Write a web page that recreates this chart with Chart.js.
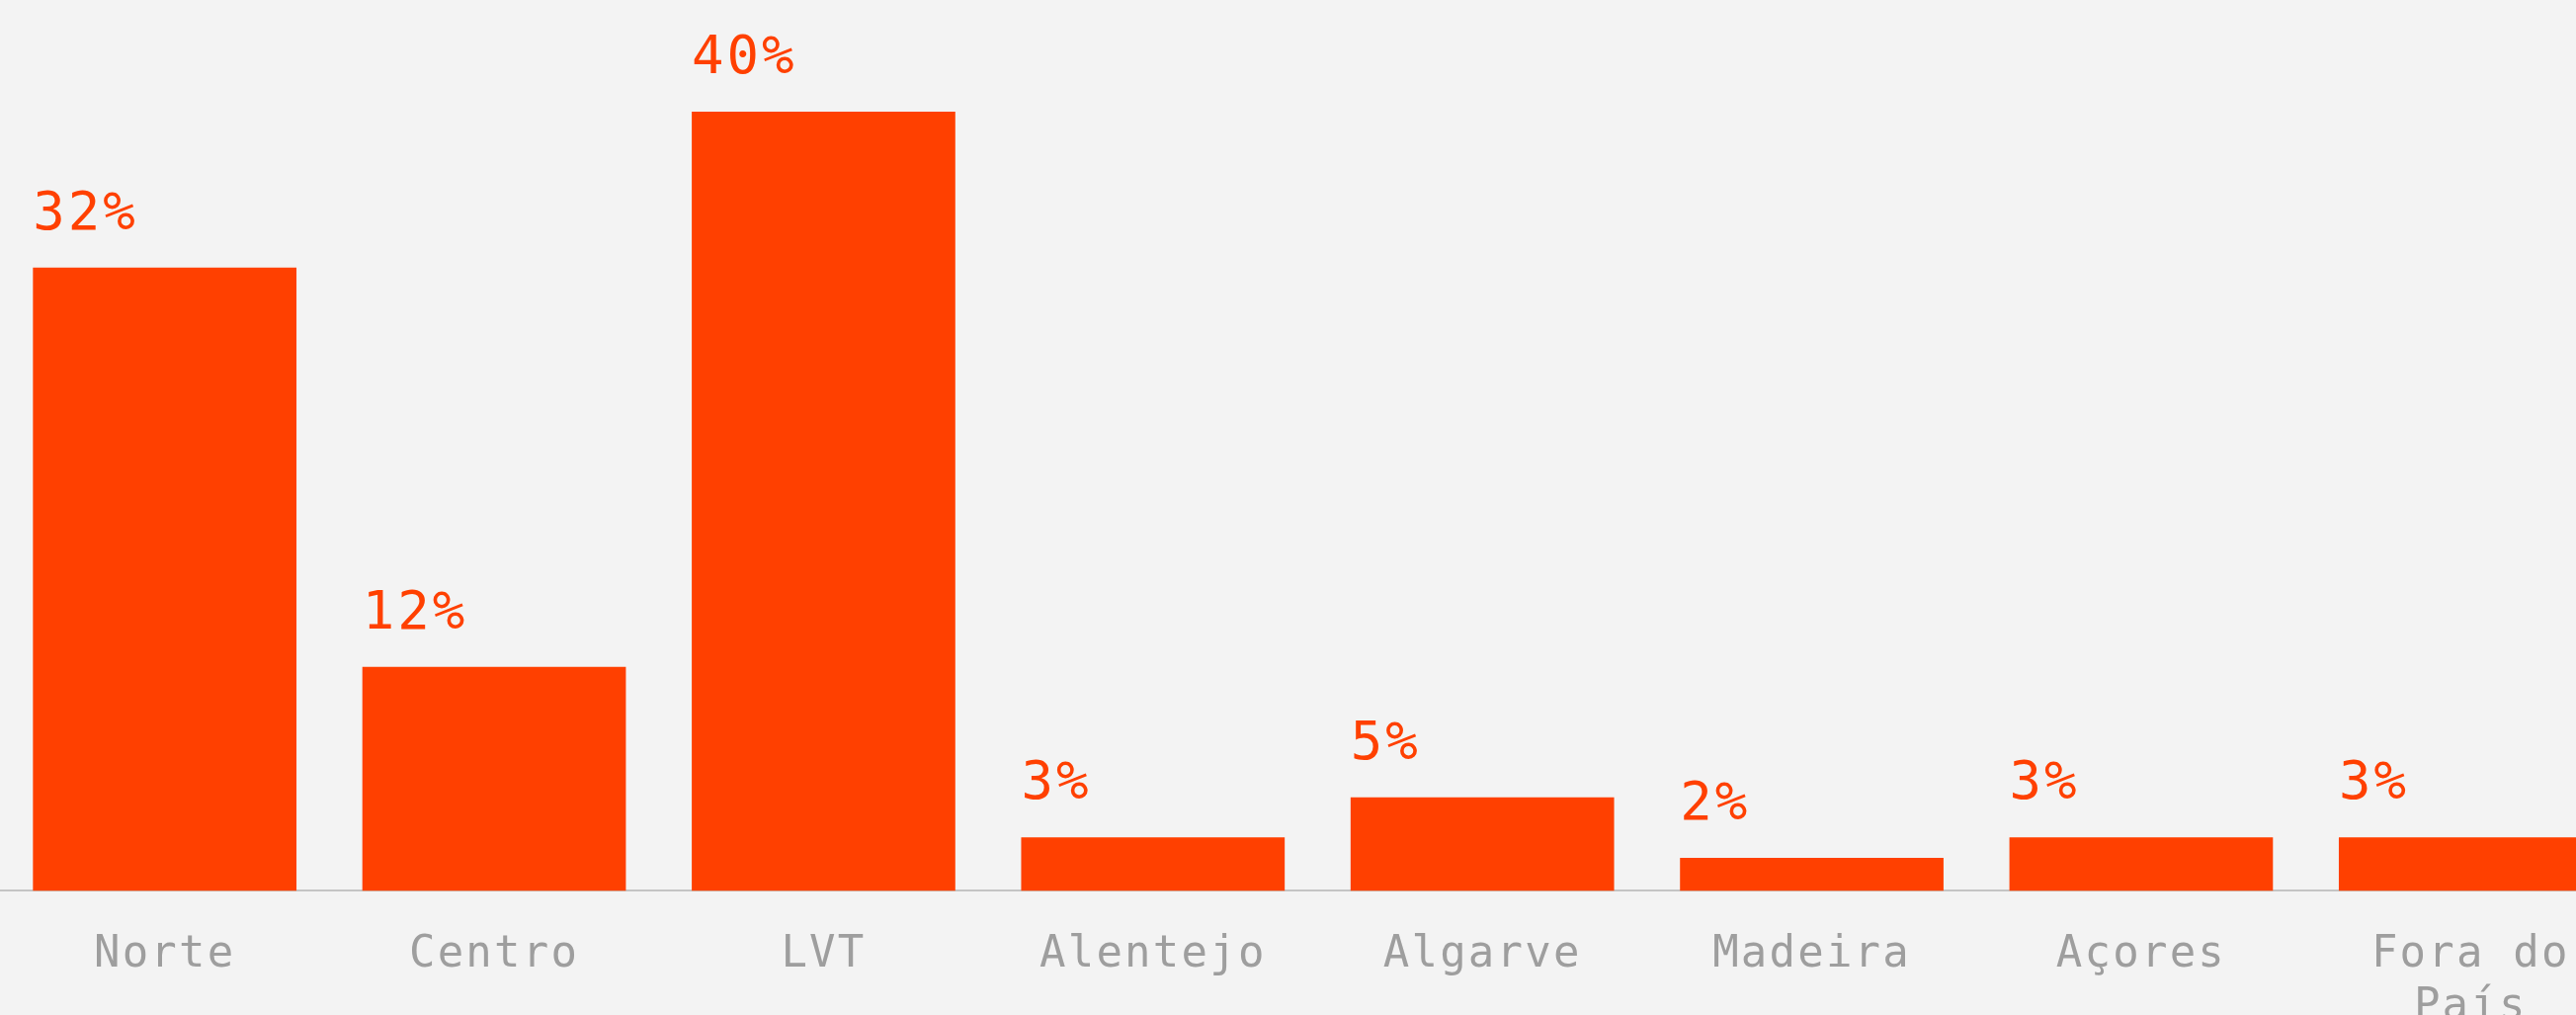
<!DOCTYPE html>
<html>
<head>
<meta charset="utf-8">
<script src="https://cdn.jsdelivr.net/npm/chart.js@4/dist/chart.umd.min.js"></script>
<style>
    html, body { margin: 0; padding: 0; background: #f3f3f3; overflow: hidden; }
    #wrap { position: absolute; left: 0; top: 0; width: 2667px; height: 1085px; }
</style>
</head>
<body>
<div id="wrap"><canvas id="regioesGrafiek"></canvas></div>
<script>
const regioes = ["Norte", "Centro", "LVT", "Alentejo", "Algarve", "Madeira", "Açores", ["Fora do", "País"]];
const percentagens = [32, 11.5, 40, 2.75, 4.8, 1.7, 2.75, 2.75];

const oranje = "#ff4000";
const grijs = "#9e9e9e";

// percentages boven de balken, links uitgelijnd op de balk
const waardeLabels = {
    id: "waardeLabels",
    beforeDraw(chart) {
        chart.ctx.letterSpacing = "2.2px";
    },
    afterDatasetsDraw(chart) {
        const ctx = chart.ctx;
        const meta = chart.getDatasetMeta(0);
        ctx.save();
        ctx.letterSpacing = "3px";
        ctx.font = "54px 'DejaVu Sans Mono'";
        ctx.fillStyle = oranje;
        ctx.textAlign = "left";
        ctx.textBaseline = "alphabetic";
        meta.data.forEach((bar, i) => {
            const links = bar.x - bar.width / 2;
            ctx.fillText(Math.round(percentagens[i]) + "%", links, bar.y - 39);
        });
        ctx.restore();
    }
};

new Chart(document.getElementById("regioesGrafiek"), {
    type: "bar",
    data: {
        labels: regioes,
        datasets: [{
            data: percentagens,
            backgroundColor: oranje,
            borderWidth: 0,
            categoryPercentage: 0.8,
            barPercentage: 1.0,
        }]
    },
    options: {
        responsive: true,
        maintainAspectRatio: false,
        animation: false,
        layout: { padding: { top: 113, left: 0, right: 0, bottom: 0 } },
        plugins: {
            legend: { display: false },
            tooltip: { enabled: false },
        },
        scales: {
            x: {
                z: 1,
                grid: { display: false, drawTicks: false },
                border: { display: true, color: "rgba(180,180,180,0.75)", width: 2 },
                ticks: {
                    color: grijs,
                    padding: 39,
                    maxRotation: 0,
                    autoSkip: false,
                    font: { family: "'DejaVu Sans Mono'", size: 44, lineHeight: 1.2 },
                },
            },
            y: {
                display: false,
                min: 0,
                max: 40,
            },
        },
    },
    plugins: [waardeLabels],
});
</script>
</body>
</html>
